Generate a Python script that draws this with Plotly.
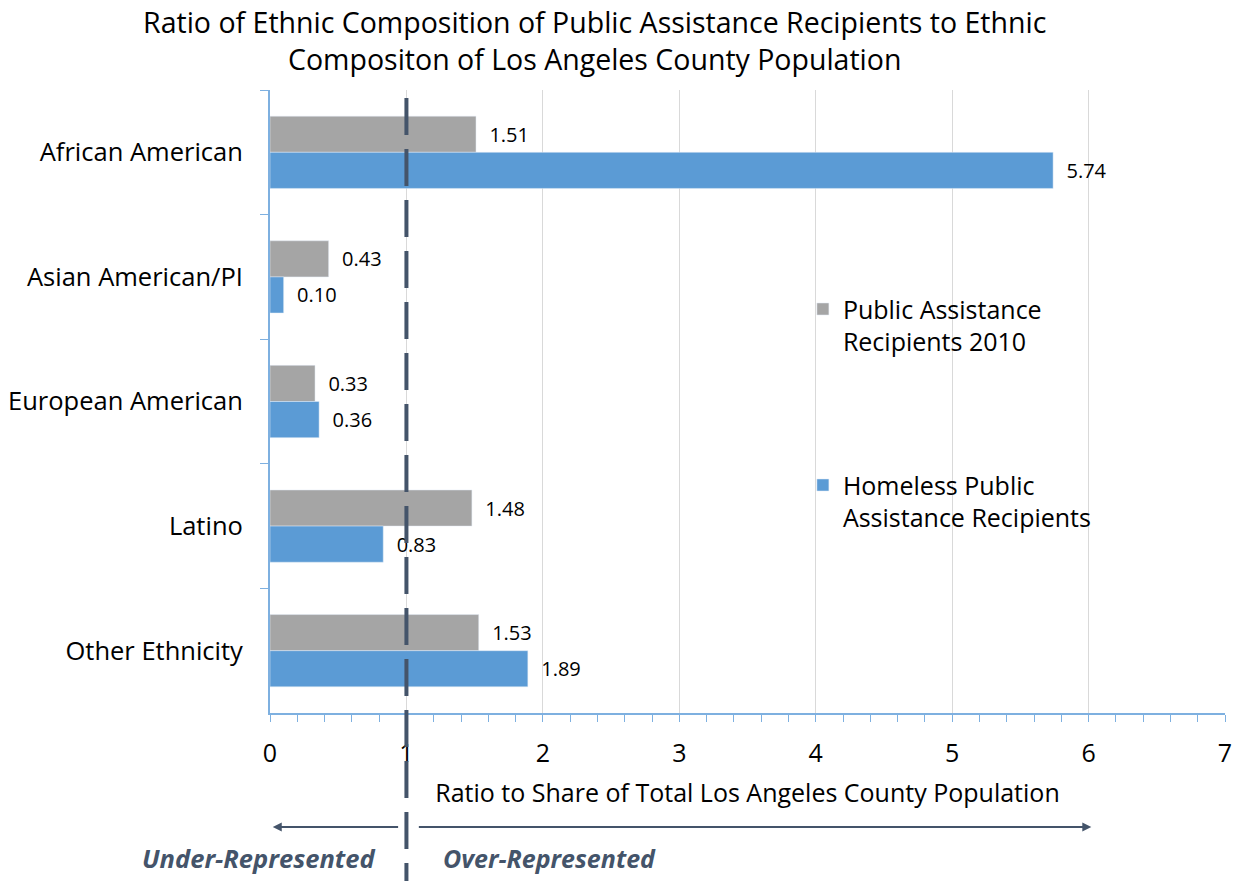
import plotly.graph_objects as go

# Ratio of each group's share of recipients to its share of county population
categories = ["African American", "Asian American/PI", "European American", "Latino", "Other Ethnicity"]
pa_recipients_2010 = [1.51, 0.43, 0.33, 1.48, 1.53]
homeless_recipients = [5.74, 0.10, 0.36, 0.83, 1.89]
x_ticks = [0, 1, 2, 3, 4, 5, 6, 7]

FONT = "Open Sans"
AXIS_BLUE = "#7eb0e0"
SLATE = "#44546a"

fig = go.Figure()
fig.add_trace(go.Bar(
    y=categories, x=pa_recipients_2010, orientation="h",
    name="Public Assistance<br>Recipients 2010", legendgroup="a",
    marker_color="#a5a5a5",
    texttemplate="\u00a0\u00a0%{x:.2f}", textposition="outside",
    textfont=dict(size=20, color="#000000", family=FONT),
    constraintext="none", cliponaxis=False,
))
fig.add_trace(go.Bar(
    y=categories, x=homeless_recipients, orientation="h",
    name="Homeless Public<br>Assistance Recipients", legendgroup="b",
    marker_color="#5b9bd5",
    texttemplate="\u00a0\u00a0%{x:.2f}", textposition="outside",
    textfont=dict(size=20, color="#000000", family=FONT),
    constraintext="none", cliponaxis=False,
))

fig.update_layout(
    width=1239, height=881,
    margin=dict(l=270, r=14, t=90, b=168, autoexpand=False),
    paper_bgcolor="white", plot_bgcolor="white",
    font=dict(family=FONT, color="#000000"),
    barmode="group", bargap=0.42, bargroupgap=0,
    title=dict(
        text="Ratio of Ethnic Composition of Public Assistance Recipients to Ethnic<br>"
             "Compositon of Los Angeles County Population",
        x=0.48, xanchor="center", y=0.963, yanchor="middle", yref="container",
        font=dict(size=28.5, family=FONT, color="#000000"),
    ),
    legend=dict(
        x=0.558, y=0.685, xanchor="left", yanchor="top",
        font=dict(size=25, family=FONT, color="#000000"),
        traceorder="grouped", tracegroupgap=108, valign="top",
        bgcolor="rgba(0,0,0,0)", itemwidth=30,
    ),
    xaxis=dict(
        range=[0, 7], tickvals=x_ticks, automargin=False,
        showgrid=True, gridcolor="#d9d9d9", gridwidth=1,
        showline=True, linecolor=AXIS_BLUE, linewidth=2,
        ticks="outside", ticklen=7, tickcolor=AXIS_BLUE, tickwidth=1,
        minor=dict(dtick=0.2, ticks="outside", ticklen=7, tickcolor=AXIS_BLUE, showgrid=False),
        tickfont=dict(size=25, family=FONT, color="#000000"),
        ticklabelstandoff=10,
        zeroline=False,
        title=dict(text="Ratio to Share of Total Los Angeles County Population",
                   font=dict(size=25, family=FONT, color="#000000"), standoff=16),
    ),
    xaxis2=dict(
        range=[0, 7], overlaying="x", anchor="y", side="bottom", automargin=False,
        dtick=0.2, tick0=0, ticks="inside", ticklen=7, tickcolor=AXIS_BLUE, tickwidth=1,
        showticklabels=False, showgrid=False, showline=False, zeroline=False,
    ),
    yaxis=dict(
        autorange="reversed", automargin=False,
        showline=True, linecolor=AXIS_BLUE, linewidth=2,
        ticks="outside", tickson="boundaries", ticklen=8, tickcolor=AXIS_BLUE,
        tickfont=dict(size=25.5, family=FONT, color="#000000"),
        ticklabelstandoff=20,
        showgrid=False,
    ),
)

# Parity line at ratio = 1, running down through the annotations
fig.add_shape(type="line", xref="x", yref="paper", x0=1, x1=1, y0=-0.3, y1=1,
              line=dict(color=SLATE, width=4, dash="37px,14px"), layer="above")

# Direction arrows below the axis title
fig.add_annotation(xref="x", yref="paper", x=0.02, y=-0.183, ax=0.95, ay=0,
                   axref="x", ayref="pixel", showarrow=True, arrowhead=2,
                   arrowsize=1, arrowwidth=1.8, arrowcolor=SLATE, text="")
fig.add_annotation(xref="x", yref="paper", x=6.02, y=-0.183, ax=1.08, ay=0,
                   axref="x", ayref="pixel", showarrow=True, arrowhead=2,
                   arrowsize=1, arrowwidth=1.8, arrowcolor=SLATE, text="")

fig.add_annotation(xref="x", yref="paper", x=0.79, y=-0.233, xanchor="right", yanchor="middle",
                   text="<b><i>Under-Represented</i></b>", showarrow=False,
                   font=dict(size=25.5, family=FONT, color=SLATE))
fig.add_annotation(xref="x", yref="paper", x=1.255, y=-0.233, xanchor="left", yanchor="middle",
                   text="<b><i>Over-Represented</i></b>", showarrow=False,
                   font=dict(size=25, family=FONT, color=SLATE))

fig.write_html("out.html")
